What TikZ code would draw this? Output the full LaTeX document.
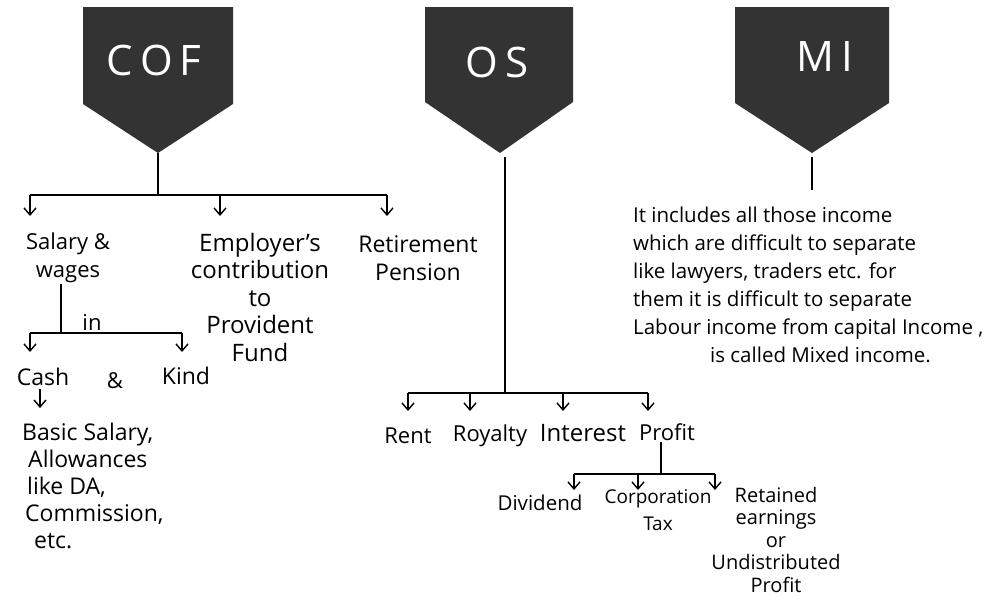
\documentclass[tikz,border=0pt]{standalone}
\usepackage{fontspec}
\setmainfont{Open Sans}
\usetikzlibrary{positioning,arrows.meta}
\tikzset{hdrbox/.style={fill=black!80, draw=none}}
\tikzset{hdrtext/.style={text=white, font=\fontsize{42}{42}\selectfont, inner sep=0pt}}
\tikzset{lbl/.style={font=\fontsize{22}{27.5}\selectfont, align=center, inner sep=1pt}}
\tikzset{note/.style={font=\fontsize{20.5}{28}\selectfont, align=left, inner sep=0pt}}
\tikzset{ln/.style={draw, line width=1.6pt}}
\tikzset{tick/.style={draw, line width=1.4pt, -{Straight Barb[length=7pt,width=12pt,line width=1.4pt]}}}

\begin{document}
\begin{tikzpicture}[x=1pt, y=-1pt]
    \useasboundingbox (0,0) rectangle (987,598);
    % header boxes
    \fill[hdrbox] (83,7) -- (233,7) -- (233,104) -- (158,153) -- (83,104) -- cycle;
    \fill[hdrbox] (425,7) -- (573,7) -- (573,102) -- (500,153) -- (425,102) -- cycle;
    \fill[hdrbox] (735,7) -- (889,7) -- (889,103) -- (812,153) -- (735,103) -- cycle;
    \node[hdrtext] (cof) at (154,60) {C\,O\,F};
    \node[hdrtext] (os) at (497,62) {O\,S};
    \node[hdrtext] (mi) at (825,57) {M\,I};
    \coordinate (cofTip) at (158,153);
    \coordinate (osTip) at (505,157);
    \coordinate (miTip) at (812,157);

    % COF branch
    \coordinate (cofJ) at (158,195);
    \coordinate (cofL) at (30,195);
    \coordinate (cofM) at (220,195);
    \coordinate (cofR) at (387,195);
    \draw[ln] (cofTip) -- (cofJ);
    \draw[ln] (cofL) -- (cofR);
    \draw[tick] (cofL) -- ++(0,21);
    \draw[tick] (cofM) -- ++(0,21);
    \draw[tick] (cofR) -- ++(0,21);
    \node[lbl] (salary) at (68,258) {Salary \&\\wages};
    \node[lbl, font=\fontsize{24}{27.5}\selectfont] (employer) at (260,297) {Employer's\\contribution\\to\\Provident\\Fund};
    \node[lbl, font=\fontsize{23}{28}\selectfont] (retire) at (418,258) {Retirement\\Pension};

    % salary split
    \coordinate (salJ) at (61,333);
    \coordinate (salL) at (30,333);
    \coordinate (salR) at (182,333);
    \draw[ln] (salary.south -| salJ) -- (salJ);
    \draw[ln] (salL) -- (salR);
    \draw[tick] (salL) -- ++(0,19);
    \draw[tick] (salR) -- ++(0,19);
    \node[lbl] (in) at (92,322) {in};
    \node[lbl, font=\fontsize{23}{27}\selectfont] (cash) at (43,377) {Cash};
    \node[lbl] (amp) at (115,381) {\&};
    \node[lbl, font=\fontsize{23}{27}\selectfont] (kind) at (186,376) {Kind};
    \draw[tick] (cash.south -| 40,0) ++(0,2) -- ++(0,19);
    \node[lbl, font=\fontsize{23}{27}\selectfont, align=left, anchor=north west] (basic) at (21,422)
        {Basic Salary,\\\hspace*{6pt}Allowances\\\hspace*{5pt}like DA,\\\hspace*{3pt}Commission,\\\hspace*{12pt}etc.};

    % OS branch
    \coordinate (osJ) at (505,393);
    \coordinate (osL) at (408,393);
    \coordinate (osR) at (648,393);
    \draw[ln] (osTip) -- (osJ);
    \draw[ln] (osL) -- (osR);
    \foreach \px in {408,470,563,648}
        \draw[tick] (\px,393) -- ++(0,18);
    \node[lbl] (rent) at (408,436) {Rent};
    \node[lbl] (royalty) at (490,436) {Royalty};
    \node[lbl, font=\fontsize{24}{27}\selectfont] (interest) at (583,433) {Interest};
    \node[lbl] (profit) at (667,432) {Profit};

    % profit split
    \coordinate (proJ) at (661,474);
    \coordinate (proL) at (574,474);
    \coordinate (proR) at (715,474);
    \draw[ln] (profit.south -| proJ) -- (proJ);
    \draw[ln] (proL) -- (proR);
    \foreach \px in {574,638,715}
        \draw[tick] (\px,474) -- ++(0,16);
    \node[lbl, font=\fontsize{20.5}{22}\selectfont] (dividend) at (540,503) {Dividend};
    \node[lbl, font=\fontsize{19}{27}\selectfont, anchor=north] (corp) at (658,488) {Corporation\\Tax};
    \node[lbl, font=\fontsize{20}{22.5}\selectfont, anchor=north] (retained) at (776,486)
        {Retained\\earnings\\or\\Undistributed\\Profit};

    % MI branch
    \coordinate (miJ) at (812,190);
    \draw[ln] (miTip) -- (miJ);
    \node[note, anchor=north west] (minote) at (633,207)
        {It includes all those income\\
         which are difficult to separate\\
         like lawyers, traders etc. for\\
         them it is difficult to separate\\
         Labour income from capital Income ,\\
         \hspace*{77pt}is called Mixed income.};
\end{tikzpicture}
\end{document}
